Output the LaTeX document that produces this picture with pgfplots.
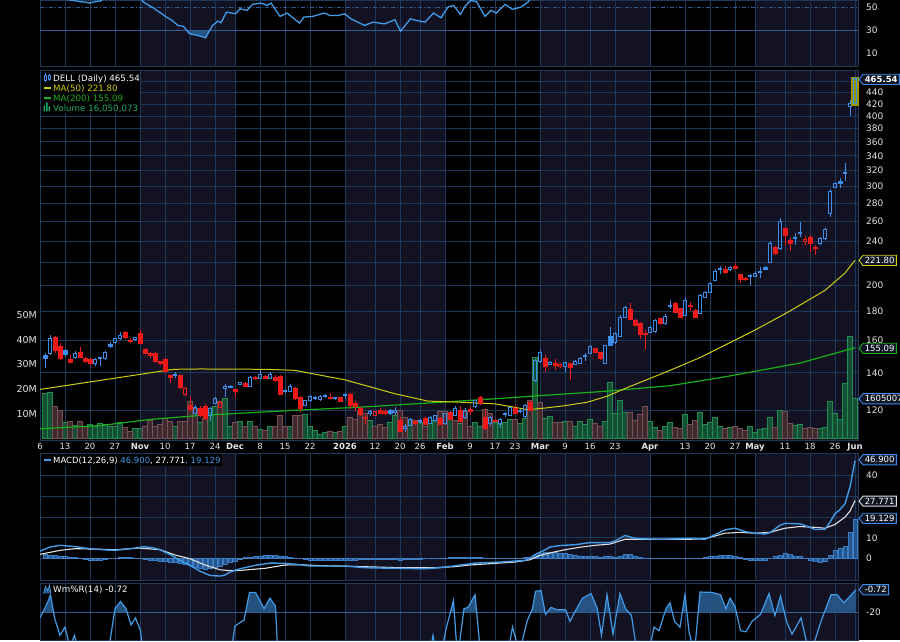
\documentclass[border=0pt]{standalone}
\usepackage{fontspec}
\setmainfont{DejaVu Sans}
\usepackage{pgfplots}
\usepackage{pgfplotstable}
\pgfplotsset{compat=1.18}

\definecolor{bgnavy}{RGB}{18,18,34}
\definecolor{gridc}{RGB}{28,56,90}
\definecolor{gridb}{RGB}{45,95,150}
\definecolor{cblue}{RGB}{60,140,235}
\definecolor{cred}{RGB}{240,25,25}
\definecolor{ma50}{RGB}{205,205,20}
\definecolor{ma200}{RGB}{25,175,25}
\definecolor{vgf}{RGB}{20,78,52}
\definecolor{vgd}{RGB}{35,140,80}
\definecolor{vrf}{RGB}{62,42,46}
\definecolor{vrd}{RGB}{118,80,84}
\definecolor{ind}{RGB}{65,155,230}
\definecolor{indfill}{RGB}{40,90,140}
\definecolor{histf}{RGB}{35,85,140}
\definecolor{histd}{RGB}{60,125,195}
\definecolor{sigc}{RGB}{225,225,225}
\definecolor{txt}{RGB}{228,228,232}
\definecolor{voltxt}{RGB}{30,170,110}
\definecolor{hl}{RGB}{150,150,0}
\definecolor{flagbg}{RGB}{16,22,36}

\newcommand\fs[1]{\fontsize{#1bp}{#1bp}\selectfont}
\pgfdeclareplotmark{nothing}{}
\def\Kc{244.64}

\newcommand\drawcandle{%
  \pgfmathtruncatemacro\ctp{\cT}%
  \pgfmathsetmacro\yo{(ln(\cO)-ln(\cC))*\Kc}%
  \pgfmathsetmacro\yh{(ln(\cH)-ln(\cC))*\Kc}%
  \pgfmathsetmacro\yl{(ln(\cL)-ln(\cC))*\Kc}%
  \pgfmathsetmacro\yb{min(\yo,0)}%
  \pgfmathsetmacro\yt{max(\yo,0)}%
  \pgfmathsetmacro\yt{max(\yt,\yb+1)}%
  \ifcase\ctp\relax
    \draw[cblue,line width=1bp] (0bp,\yl bp)--(0bp,\yb bp) (0bp,\yt bp)--(0bp,\yh bp);
    \draw[cblue,line width=1bp] (-1.5bp,\yb bp) rectangle (1.5bp,\yt bp);
  \or
    \draw[cblue,line width=1bp] (0bp,\yl bp)--(0bp,\yh bp);
    \fill[cblue] (-2bp,\yb bp) rectangle (2bp,\yt bp);
  \or
    \draw[cred,line width=1bp] (0bp,\yl bp)--(0bp,\yh bp);
    \fill[cred] (-2bp,\yb bp) rectangle (2bp,\yt bp);
  \or
    \draw[cred,line width=1bp] (0bp,\yl bp)--(0bp,\yb bp) (0bp,\yt bp)--(0bp,\yh bp);
    \draw[cred,line width=1bp] (-1.5bp,\yb bp) rectangle (1.5bp,\yt bp);
  \or
    \pgfmathsetmacro\ybx{\yb-1.5}\pgfmathsetmacro\ytx{\yt+1.5}%
    \fill[hl] (-3.5bp,\ybx bp) rectangle (3.5bp,\ytx bp);
    \draw[cblue,line width=1bp] (0bp,\yl bp)--(0bp,\yb bp) (0bp,\yt bp)--(0bp,\yh bp);
    \draw[cblue,line width=1bp] (-1.5bp,\yb bp) rectangle (1.5bp,\yt bp);
  \fi}

\newcommand\flag[5][]{%
  \node[anchor=west, inner xsep=1.6bp, inner ysep=1.7bp, font=\fs{8.5}#1] (fl) at (863bp,-#2bp) {\phantom{#5}};
  \filldraw[draw=#3, fill=#4, line width=0.9bp] (859bp,-#2bp) -- (fl.north west) -- (fl.north east) -- (fl.south east) -- (fl.south west) -- cycle;
  \node[anchor=west, inner xsep=1.6bp, inner ysep=1.7bp, font=\fs{8.5}#1, text=white] at (863bp,-#2bp) {#5};}

\pgfplotsset{
  base/.style={scale only axis, width=818bp, xmin=0, xmax=163.6, anchor=north west,
    axis line style={draw=gridc, line width=0.8bp},
    major tick length=0pt, minor tick length=0pt,
    xtick={0,5,10,15,20,25,30,35,39,44,49,54,61,67,72,76,81,86,91,95,100,105,110,115,122,129,134,139,143,149,154,159,163},
    xticklabels={}, xticklabel style={inner sep=0pt},
    xmajorgrids, grid style={draw=gridc, line width=0.8bp},
    yticklabel style={font=\fs{9}, text=txt, inner sep=0pt}},
  rlab/.style={yticklabel pos=right, yticklabel style={anchor=west, xshift=8bp}},
}

% daily candles: open high low close, type (0 hollow blue, 1 filled blue, 2 filled red, 3 hollow red, 4 last bar),
% volume in millions (vg on green bars, vr on brown bars)
\pgfplotstableread[row sep=\\]{
i o h l c t vg vr\\
1 150.5 152.0 142.6 148.8 1 18.4 nan\\ 2 151.6 163.5 150.8 161.2 0 18.8 nan\\
3 161.9 162.5 152.0 153.4 2 nan 13.0\\ 4 155.8 158.3 147.5 148.5 2 nan 11.5\\
5 153.4 154.0 150.0 151.0 1 6.5 nan\\ 6 147.9 150.3 145.5 146.1 2 nan 6.8\\
7 149.1 153.0 148.0 151.6 0 5.3 nan\\ 8 152.3 155.5 148.5 149.1 2 nan 6.8\\
9 148.5 149.5 145.5 146.7 2 nan 5.0\\ 10 147.9 148.5 144.5 145.5 2 5.7 nan\\
11 145.5 148.5 144.0 147.6 0 4.8 nan\\ 12 148.5 149.5 143.8 149.1 0 6.0 nan\\
13 148.5 153.0 147.5 152.3 0 5.5 nan\\ 14 157.6 158.5 155.0 155.8 1 4.8 nan\\
15 158.3 161.5 157.5 160.8 0 5.0 nan\\ 16 160.8 165.5 160.0 163.2 0 6.3 nan\\
17 165.2 166.0 160.5 161.9 2 nan 4.4\\ 18 160.2 161.5 158.0 159.0 2 nan 2.9\\
19 160.2 162.0 159.5 161.5 0 4.1 nan\\ 20 164.5 166.5 157.5 158.3 2 3.9 nan\\
21 154.2 155.0 151.0 151.6 2 nan 5.0\\ 22 151.6 152.5 148.5 150.3 2 nan 7.3\\
23 151.6 152.5 146.0 146.7 2 nan 5.0\\ 24 146.7 147.0 144.5 145.5 2 nan 5.5\\
25 147.9 148.5 140.0 140.8 2 nan 8.2\\ 26 138.5 139.0 134.5 137.4 2 nan 6.8\\
27 138.2 140.5 137.0 139.2 0 5.0 nan\\ 28 138.5 139.0 131.0 131.9 2 nan 6.8\\
29 128.2 132.2 127.5 131.5 3 nan 6.8\\ 30 122.5 127.5 119.5 120.5 2 nan 14.8\\
31 118.6 122.5 118.0 121.5 0 nan 12.1\\ 32 121.0 122.0 117.0 117.6 2 6.5 nan\\
33 122.0 123.0 115.5 116.2 2 nan 7.9\\ 34 117.6 121.5 114.8 121.0 0 10.4 nan\\
35 123.6 127.0 123.0 126.2 0 13.0 nan\\ 36 121.5 125.0 121.0 124.1 3 nan 14.8\\
37 131.5 133.8 126.7 132.2 0 16.3 nan\\ 38 132.8 133.0 131.5 132.2 1 5.0 nan\\
39 130.8 131.0 126.7 130.0 2 nan 6.3\\ 40 133.5 135.0 133.0 134.6 0 6.8 nan\\
41 134.0 134.6 132.0 132.4 2 nan 5.0\\ 42 132.4 138.0 132.0 137.4 0 6.8 nan\\
43 137.4 138.0 136.0 136.8 2 nan 4.8\\ 44 136.8 141.5 136.5 139.1 0 3.5 nan\\
45 137.9 138.5 136.3 136.8 2 nan 3.2\\ 46 136.8 140.5 136.5 139.1 0 5.0 nan\\
47 137.4 138.5 135.0 135.7 2 nan 4.8\\ 48 137.9 138.5 127.7 128.2 2 nan 9.4\\
49 129.5 131.0 129.0 130.3 0 nan 5.0\\ 50 129.7 133.5 129.2 132.4 0 5.0 nan\\
51 131.4 132.0 125.5 126.2 2 nan 9.3\\ 52 126.7 127.2 119.5 121.2 2 nan 9.3\\
53 122.5 125.5 122.0 125.1 0 9.7 nan\\ 54 125.1 127.8 124.5 127.3 0 5.0 nan\\
55 126.0 127.5 125.5 126.7 0 3.2 nan\\ 56 125.3 127.8 125.0 127.3 0 1.6 nan\\
57 127.3 128.5 126.2 127.7 0 2.6 nan\\ 58 126.8 128.7 125.6 126.0 2 nan 3.0\\
59 125.8 127.0 125.3 126.5 0 2.6 nan\\ 60 126.6 127.0 124.0 124.4 2 nan 3.0\\
61 127.4 129.0 126.0 128.0 0 4.9 nan\\ 62 128.2 129.0 120.6 122.5 2 nan 8.7\\
63 123.8 125.0 120.0 122.2 2 nan 7.6\\ 64 121.1 121.5 117.5 118.1 2 nan 11.4\\
65 117.0 118.0 113.5 116.1 2 nan 10.1\\ 66 118.6 120.3 117.5 119.3 0 7.1 nan\\
67 117.7 119.5 117.2 119.3 3 nan 4.9\\ 68 120.0 121.0 118.3 118.6 2 nan 5.7\\
69 119.8 120.8 117.8 118.6 2 nan 4.6\\ 70 120.3 120.8 117.8 118.9 1 6.6 nan\\
71 119.2 121.5 118.0 119.8 0 9.3 nan\\ 72 115.5 116.7 109.9 110.4 2 nan 11.4\\
73 111.5 113.5 109.8 112.5 0 nan 8.4\\ 74 112.9 116.3 112.5 115.8 0 7.6 nan\\
75 114.7 115.3 113.2 114.0 2 nan 7.3\\ 76 114.7 116.0 113.5 115.3 0 6.6 nan\\
77 116.3 116.8 113.3 113.6 2 nan 4.9\\ 78 113.9 117.2 113.5 116.7 0 5.9 nan\\
79 115.0 118.0 114.6 117.6 0 7.1 nan\\ 80 116.3 116.8 113.3 113.6 2 nan 10.8\\
81 113.6 119.0 113.3 118.5 0 nan 10.8\\ 82 119.2 120.0 115.3 115.6 2 9.3 nan\\
83 117.6 122.0 117.3 120.8 0 nan 7.3\\ 84 120.1 122.0 114.0 114.9 2 5.9 nan\\
85 116.6 121.0 116.2 120.1 0 nan 10.8\\ 86 120.4 122.0 118.0 119.5 2 nan 4.9\\
87 121.9 125.5 121.5 125.1 0 6.3 nan\\ 88 126.6 127.5 122.8 123.5 2 4.9 nan\\
89 116.8 120.4 111.0 111.8 2 nan 11.7\\ 90 114.0 117.5 112.5 116.5 0 nan 10.1\\
91 115.5 116.0 114.5 115.0 2 6.6 nan\\ 92 113.8 116.5 111.8 115.8 0 5.7 nan\\
93 118.0 119.5 117.0 118.4 0 6.6 nan\\ 94 117.6 121.8 117.3 121.5 0 7.6 nan\\
95 120.9 122.5 118.2 118.6 2 nan 7.6\\ 96 119.5 120.5 119.0 120.0 0 5.9 nan\\
97 117.0 123.0 116.6 122.5 0 8.2 nan\\ 98 124.2 125.5 119.8 120.1 2 nan 15.2\\
99 135.7 148.0 135.0 147.3 0 32.8 nan\\ 100 146.4 153.5 145.5 152.4 0 nan 14.5\\
101 148.5 150.5 140.3 143.8 2 8.3 nan\\ 102 145.1 147.0 144.5 146.1 0 8.8 nan\\
103 145.5 148.0 141.5 144.5 2 nan 6.5\\ 104 143.5 145.5 142.5 145.0 3 nan 6.5\\
105 143.8 146.5 140.5 145.8 0 7.0 nan\\ 106 145.5 146.0 136.0 143.0 2 nan 7.0\\
107 145.1 147.5 144.5 146.7 0 5.0 nan\\ 108 145.5 149.5 145.0 148.5 0 7.0 nan\\
109 149.5 152.0 147.0 149.9 0 5.6 nan\\ 110 151.6 157.0 151.0 155.8 0 7.5 nan\\
111 154.6 155.2 151.5 152.2 2 nan 5.9\\ 112 152.0 152.5 147.3 148.5 2 nan 5.0\\
113 145.5 157.0 145.0 156.4 0 7.0 nan\\ 114 162.5 168.5 156.5 157.0 1 22.5 nan\\
115 158.3 165.5 158.0 164.5 0 10.1 nan\\ 116 162.5 177.0 162.0 175.6 0 15.5 nan\\
117 175.6 184.3 175.0 182.8 0 10.5 nan\\ 118 181.4 185.9 173.4 174.1 2 nan 10.5\\
119 173.8 174.5 169.3 169.8 2 nan 7.3\\ 120 171.2 172.0 160.8 164.0 2 nan 9.9\\
121 164.5 167.0 154.0 163.8 2 nan 12.9\\ 122 165.2 169.5 164.5 168.8 0 7.0 nan\\
123 165.5 174.1 165.0 173.4 0 4.6 nan\\ 124 174.8 175.5 170.5 171.2 2 nan 3.3\\
125 171.2 177.7 170.8 176.3 0 5.0 nan\\ 126 183.5 188.2 181.4 184.3 0 6.5 nan\\
127 185.9 187.0 178.5 179.2 2 nan 4.3\\ 128 182.1 182.8 175.0 175.6 2 nan 3.9\\
129 177.0 190.3 176.3 188.2 0 9.9 nan\\ 130 184.5 186.7 180.5 183.5 2 nan 5.5\\
131 180.6 181.4 175.0 175.6 2 nan 7.2\\ 132 178.5 193.0 178.0 192.0 0 10.7 nan\\
133 190.5 195.5 190.0 194.5 0 5.5 nan\\ 134 194.5 202.5 194.0 201.7 0 6.5 nan\\
135 204.3 213.6 203.5 211.9 0 8.5 nan\\ 136 213.8 216.5 209.4 214.8 0 5.0 nan\\
137 213.8 216.5 209.4 211.1 2 nan 3.9\\ 138 213.8 216.5 212.0 215.3 0 4.6 nan\\
139 216.6 219.5 214.0 214.8 2 nan 5.0\\ 140 209.4 210.0 201.7 205.1 2 nan 3.9\\
141 206.3 207.0 203.5 205.5 2 nan 3.3\\ 142 207.2 209.5 200.5 208.2 0 5.0 nan\\
143 207.8 212.5 207.0 210.5 0 2.6 nan\\ 144 211.3 216.0 206.0 212.0 0 3.5 nan\\
145 215.5 216.5 213.0 214.2 1 3.9 nan\\ 146 220.1 240.0 219.5 237.7 0 8.5 nan\\
147 234.0 235.5 226.5 228.6 2 nan 4.3\\ 148 232.5 263.4 232.0 260.1 0 11.3 nan\\
149 252.4 254.0 235.2 245.4 2 nan 11.0\\ 150 241.1 242.5 230.0 237.3 2 nan 6.0\\
151 242.2 248.0 236.5 243.0 0 5.2 nan\\ 152 247.0 259.5 243.5 247.8 0 5.6 nan\\
153 239.2 244.5 236.5 241.2 3 nan 3.9\\ 154 243.5 245.5 229.5 237.3 2 nan 4.5\\
155 233.5 236.0 226.5 232.7 2 nan 3.9\\ 156 237.9 243.5 236.0 242.0 0 3.9 nan\\
157 242.0 253.5 241.0 251.5 0 4.5 nan\\ 158 268.5 296.5 264.5 294.3 0 14.9 nan\\
159 298.8 305.5 298.0 303.8 0 10.1 nan\\ 160 306.5 310.5 298.0 304.5 1 7.5 nan\\
161 316.0 330.0 306.0 316.8 0 22.1 nan\\ 162 415.5 427.7 400.0 420.5 0 41.2 nan\\
163 421.0 466.0 420.0 465.54 4 16.05 nan\\
}\ohlc

\pgfplotstableread[row sep=\\]{
x y\\ 0 130.8\\ 12 135.7\\ 20 139.1\\ 26.6 142.0\\ 32 142.2\\ 45.4 142.0\\ 51 141.4\\ 61 136.0\\
71 128.5\\ 77.6 124.7\\ 84.4 124.1\\ 91 123.3\\ 97.6 120.4\\ 101 121.2\\ 105 122.4\\ 109.4 124.1\\ 113.4 127.2\\
118 132.4\\ 126 141.4\\ 132 149.0\\ 142.6 166.0\\ 149.4 179.0\\ 157 196.1\\ 161 210.5\\ 163 221.8\\
}\maA

\pgfplotstableread[row sep=\\]{
x y\\ 0 111.4\\ 12 112.8\\ 22 115.7\\ 32 117.6\\ 51 120.1\\ 64.4 121.7\\ 77.6 123.7\\ 91 125.9\\ 101 127.7\\ 112 129.6\\
126 132.8\\ 136 137.2\\ 152 145.7\\ 163 155.1\\
}\maB

\pgfplotstableread[row sep=\\]{
x y\\ 1 1.9\\ 2 1.8\\ 3 1.6\\ 4 1.2\\ 5 1.0\\ 6 0.8\\ 7 0.5\\ 8 0.2\\ 9 -0.3\\ 10 -0.5\\
11 -0.6\\ 12 -0.5\\ 13 -0.3\\ 14 0.0\\ 15 0.3\\ 16 0.5\\ 17 0.6\\ 18 0.6\\ 19 0.4\\ 20 0.1\\
21 -0.3\\ 22 -0.5\\ 23 -0.7\\ 24 -1.0\\ 25 -1.2\\ 26 -1.5\\ 27 -1.8\\ 28 -2.2\\ 29 -2.7\\ 30 -3.3\\
31 -3.9\\ 32 -4.4\\ 33 -4.8\\ 34 -4.7\\ 35 -4.2\\ 36 -3.6\\ 37 -2.8\\ 38 -1.9\\ 39 -1.0\\ 40 -0.2\\
41 0.5\\ 42 0.9\\ 43 1.2\\ 44 1.4\\ 45 1.6\\ 46 1.6\\ 47 1.5\\ 48 1.3\\ 49 1.0\\ 50 0.7\\
51 0.4\\ 52 0.1\\ 53 -0.3\\ 54 -0.5\\ 55 -0.7\\ 56 -0.8\\ 57 -0.8\\ 58 -0.8\\ 59 -0.7\\ 60 -0.7\\
61 -0.6\\ 62 -0.5\\ 63 -0.5\\ 64 -0.4\\ 65 -0.3\\ 66 -0.3\\ 67 -0.3\\ 68 -0.2\\ 69 -0.2\\ 70 -0.3\\
71 -0.4\\ 72 -0.5\\ 73 -0.4\\ 74 -0.3\\ 75 -0.2\\ 76 -0.1\\ 77 0.0\\ 78 0.1\\ 79 0.2\\ 80 0.3\\
81 0.4\\ 82 0.5\\ 83 0.5\\ 84 0.6\\ 85 0.6\\ 86 0.5\\ 87 0.5\\ 88 0.6\\ 89 0.4\\ 90 0.3\\
91 0.2\\ 92 0.2\\ 93 0.3\\ 94 0.3\\ 95 0.4\\ 96 0.4\\ 97 0.5\\ 98 0.8\\ 99 1.8\\ 100 2.5\\
101 2.9\\ 102 3.2\\ 103 3.1\\ 104 2.8\\ 105 2.4\\ 106 2.0\\ 107 1.6\\ 108 1.3\\ 109 1.1\\ 110 1.1\\
111 1.0\\ 112 0.9\\ 113 1.0\\ 114 1.0\\ 115 0.9\\ 116 1.4\\ 117 1.9\\ 118 1.9\\ 119 1.4\\ 120 0.8\\
121 0.4\\ 122 0.2\\ 123 0.2\\ 124 0.1\\ 125 0.2\\ 126 0.2\\ 127 0.1\\ 128 0.0\\ 129 0.2\\ 130 0.2\\
131 0.1\\ 132 0.3\\ 133 0.5\\ 134 1.0\\ 135 1.4\\ 136 1.6\\ 137 1.6\\ 138 1.5\\ 139 1.2\\ 140 0.6\\
141 -0.2\\ 142 -0.6\\ 143 -0.8\\ 144 -0.8\\ 145 -0.7\\ 146 0.0\\ 147 1.0\\ 148 1.6\\ 149 2.4\\ 150 2.2\\
151 1.4\\ 152 1.0\\ 153 0.3\\ 154 -0.5\\ 155 -1.3\\ 156 -1.6\\ 157 -1.0\\ 158 1.6\\ 159 4.0\\ 160 4.8\\
161 5.9\\ 162 12.7\\ 163 19.1\\
}\hist

\pgfplotstableread[row sep=\\]{
x y\\ 0 3.6\\ 2 5.6\\ 4 6.4\\ 7 5.8\\ 10 4.8\\ 13 4.2\\ 15 4.0\\ 17 4.5\\ 19 5.1\\ 21 5.8\\
23 5.0\\ 24 4.3\\ 26 2.0\\ 28 -0.8\\ 30 -3.2\\ 32 -6.0\\ 34 -8.0\\ 36 -8.3\\ 37 -7.8\\ 38 -6.4\\
40 -4.8\\ 43 -3.2\\ 46 -2.1\\ 49 -2.2\\ 51 -2.6\\ 54 -3.5\\ 58 -3.5\\ 61 -3.5\\ 65 -4.3\\ 69 -4.5\\
72 -4.6\\ 77 -4.8\\ 80 -4.3\\ 82 -3.7\\ 87 -2.1\\ 92 -1.6\\ 97 -0.8\\ 98 0.2\\ 99 2.0\\ 101 4.2\\
102 5.6\\ 104 6.3\\ 107 6.7\\ 110 7.7\\ 114 7.7\\ 115 8.5\\ 117 11.1\\ 119 9.8\\ 121 9.5\\ 124 9.3\\
127 9.5\\ 130 9.8\\ 133 9.3\\ 135 11.5\\ 137 13.8\\ 139 14.6\\ 141 13.0\\ 143 12.2\\ 145 11.8\\ 146 12.5\\
148 16.0\\ 149 16.9\\ 152 16.7\\ 154 15.0\\ 155 14.0\\ 157 14.0\\ 158 17.5\\ 159 21.5\\ 160 23.5\\ 161 26.3\\
162 34.3\\ 163 46.9\\
}\macd

\pgfplotstableread[row sep=\\]{
x y\\ 0 2.1\\ 4 4.0\\ 7 4.8\\ 11 4.6\\ 15 4.3\\ 20 5.1\\ 24 4.3\\ 27 1.8\\ 30 0.0\\ 33 -3.0\\
36 -5.3\\ 38 -5.7\\ 40 -5.6\\ 45 -4.6\\ 49 -3.0\\ 52 -2.9\\ 56 -3.3\\ 63 -3.7\\ 72 -4.3\\ 79 -4.3\\
83 -3.8\\ 86 -3.0\\ 95 -1.6\\ 98 -0.5\\ 100 1.6\\ 103 3.3\\ 105 4.3\\ 108 5.5\\ 111 6.4\\ 114 7.0\\
117 9.3\\ 124 9.3\\ 130 9.3\\ 133 9.6\\ 137 12.2\\ 140 12.6\\ 143 12.2\\ 146 12.6\\ 149 14.6\\ 152 15.4\\
155 15.0\\ 157 14.6\\ 159 16.4\\ 161 19.9\\ 162 22.8\\ 163 27.8\\
}\sig

\pgfplotstableread[row sep=\\]{
x y\\ 0 -25\\ 1.5 -12\\ 2.1 -5\\ 2.9 -25\\ 4 -40\\ 5 -33\\ 6 -50\\ 6.9 -40\\ 8 -60\\ 9 -55\\
10 -70\\ 11 -52\\ 12 -62\\ 13 -50\\ 14 -45\\ 15 -17\\ 16.1 -10.8\\ 17.2 -17\\ 18.2 -31\\ 19.1 -25\\
20.1 -36\\ 20.7 -60\\ 22 -75\\ 23 -85\\ 24 -70\\ 25 -90\\ 26 -80\\ 27 -88\\ 28 -95\\ 29 -85\\
30 -97\\ 31 -80\\ 32 -90\\ 33 -75\\ 34 -85\\ 35 -65\\ 36 -70\\ 37 -55\\ 38 -60\\ 39 -32\\
40 -29\\ 40.8 -27\\ 41.9 -3\\ 43.1 -3\\ 44.8 -17\\ 46 -8\\ 47.1 -15\\ 47.6 -60\\ 49 -80\\ 50 -70\\
51 -90\\ 52 -85\\ 53 -75\\ 54 -80\\ 55 -70\\ 56 -85\\ 57 -78\\ 58 -90\\ 59 -82\\ 60 -88\\
61 -95\\ 62 -80\\ 63 -90\\ 64 -85\\ 65 -92\\ 66 -80\\ 67 -75\\ 68 -85\\ 69 -78\\ 70 -88\\
71 -90\\ 72 -98\\ 73 -80\\ 74 -85\\ 75 -70\\ 76 -78\\ 77 -65\\ 78 -55\\ 78.6 -40\\ 79.5 -60\\
80.5 -50\\ 81.3 -33\\ 82.7 -10\\ 83.5 -60\\ 84.8 -17\\ 85.6 -16\\ 87 -5\\ 88.2 -60\\ 89 -75\\ 90 -85\\
91 -70\\ 92 -65\\ 93 -60\\ 93.6 -55\\ 94.5 -33\\ 95.9 -55\\ 97.4 -28\\ 98.5 -17\\ 99.1 -2\\ 100.2 -1.5\\
101.1 -22\\ 102.2 -16\\ 103.4 -18\\ 105.1 -18\\ 106 -28\\ 107.2 -18\\ 108.5 -8\\ 110.2 -4\\ 111.4 -16\\ 112.3 -40\\
113.4 -5\\ 114.6 -39\\ 116 -4\\ 117.1 -17\\ 118.3 -23\\ 119.4 -55\\ 120.5 -70\\ 121.5 -60\\ 122.8 -33\\ 123.8 -36\\
125.2 -17\\ 126 -12\\ 126.9 -28\\ 128 -33\\ 129 -5\\ 129.8 -37\\ 130.9 -55\\ 132 -2.7\\ 134.4 -3\\ 136.1 -5\\
137.2 -17\\ 138 -8\\ 139 -15\\ 140.1 -36\\ 141.2 -37\\ 142.4 -28\\ 144.1 -22\\ 145.8 -4\\ 147 -23\\ 148.1 -6\\
149.3 -28\\ 150.4 -39\\ 152.2 -25\\ 153.8 -55\\ 155 -44\\ 156.2 -28\\ 158.2 -5\\ 159.4 -5\\ 160.8 -12\\ 162.5 -4\\
163.2 -0.72\\
}\wr

% shaded parts of Williams %R above -20 (one polygon per run, separated by nan)
\pgfplotstableread[row sep=\\]{
x y\\ 0.58 -20\\ 1.5 -12\\ 2.1 -5\\ 2.7 -20\\ nan nan\\
14.89 -20\\ 15 -17\\ 16.1 -10.8\\ 17.2 -17\\ 17.41 -20\\ nan nan\\
41.12 -20\\ 41.9 -3\\ 43.1 -3\\ 44.8 -17\\ 46 -8\\ 47.1 -15\\ 47.16 -20\\ nan nan\\
82.09 -20\\ 82.7 -10\\ 82.86 -20\\ nan nan\\
84.71 -20\\ 84.8 -17\\ 85.6 -16\\ 87 -5\\ 87.33 -20\\ nan nan\\
98.2 -20\\ 98.5 -17\\ 99.1 -2\\ 100.2 -1.5\\ 101.01 -20\\ nan nan\\
101.47 -20\\ 102.2 -16\\ 103.4 -18\\ 105.1 -18\\ 105.28 -20\\ nan nan\\
106.96 -20\\ 107.2 -18\\ 108.5 -8\\ 110.2 -4\\ 111.4 -16\\ 111.55 -20\\ nan nan\\
112.93 -20\\ 113.4 -5\\ 113.93 -20\\ nan nan\\
115.36 -20\\ 116 -4\\ 117.1 -17\\ 117.7 -20\\ nan nan\\
124.98 -20\\ 125.2 -17\\ 126 -12\\ 126.45 -20\\ nan nan\\
128.46 -20\\ 129 -5\\ 129.38 -20\\ nan nan\\
131.64 -20\\ 132 -2.7\\ 134.4 -3\\ 136.1 -5\\ 137.2 -17\\ 138 -8\\ 139 -15\\ 139.26 -20\\ nan nan\\
144.29 -20\\ 145.8 -4\\ 146.81 -20\\ nan nan\\
147.19 -20\\ 148.1 -6\\ 148.86 -20\\ nan nan\\
156.9 -20\\ 158.2 -5\\ 159.4 -5\\ 160.8 -12\\ 162.5 -4\\ 163.2 -0.72\\ 163.2 -20\\
}\wrfill

\pgfplotstableread[row sep=\\]{
x y\\ 0 60\\ 3 58\\ 5 57\\ 6 56.5\\ 8 55\\ 9 54.6\\ 10 53.8\\ 11 55\\ 12 55.5\\ 13 58\\
16 63\\ 19 61\\ 20 58\\ 20.7 54.6\\ 22.4 50.3\\ 25.3 41.6\\ 26.4 38.7\\ 27.6 34.3\\ 28.7 33.5\\ 29.9 27.1\\
31.6 25.6\\ 33.1 23.6\\ 34.5 34.3\\ 35.6 38.1\\ 36.2 36.7\\ 37.3 45.9\\ 39.1 44.5\\ 40 48.8\\ 41.4 47.4\\ 42.5 52.6\\
44.2 53.8\\ 45.4 51.7\\ 46.2 53.8\\ 48 42.2\\ 49.4 45.1\\ 51.9 36.4\\ 52.8 41.6\\ 54.6 42.2\\ 56.8 45.1\\ 58 43.0\\
59.7 43.0\\ 60.9 44.5\\ 62.2 40.1\\ 64.9 34.3\\ 66.6 37.2\\ 68.9 35.7\\ 71 39.3\\ 72.1 29.4\\ 74.1 40.1\\ 75.2 38.7\\
77 37.2\\ 78.7 45.1\\ 80.2 41.0\\ 81.6 50.3\\ 82.7 51.7\\ 84.1 43.9\\ 85 51.0\\ 86.1 56.0\\ 87.3 55.0\\ 89 42.2\\
90.2 47.4\\ 91.3 45.1\\ 93 52.6\\ 94.5 48.3\\ 96.2 50.3\\ 97.6 54.6\\ 98.5 60\\ 99.5 72\\ 101 75\\ 105 68\\
110 66\\ 117 74\\ 121 60\\ 125 66\\ 133 72\\ 140 60\\ 148 70\\ 155 60\\ 163 85\\
}\rsi

\pgfplotstableread[row sep=\\]{
x y\\ 29.36 30\\ 29.9 27.1\\ 31.6 25.6\\ 33.1 23.6\\ 33.94 30\\
}\rsifill

\begin{document}
\begin{tikzpicture}
\fill[black] (0,0) rectangle (900bp,-640bp);
\foreach \a/\b in {140/235,345/445,540/650,755/858}{
  \fill[bgnavy] (\a bp,0bp) rectangle (\b bp,-66bp);
  \fill[bgnavy] (\a bp,-70bp) rectangle (\b bp,-440bp);
  \fill[bgnavy] (\a bp,-453bp) rectangle (\b bp,-580bp);
  \fill[bgnavy] (\a bp,-583bp) rectangle (\b bp,-640bp);
}

% ---------- RSI panel ----------
\begin{axis}[base, rlab, at={(40bp,0bp)}, height=66bp, ymin=-1.3, ymax=56.09,
  ytick={10,30,50}, yticklabels={10,30,50}]
  \addplot[gridb, line width=0.9bp, dash pattern=on 4bp off 2bp on 1bp off 2bp] coordinates {(0,50) (163.6,50)};
  \addplot[gridb, line width=0.9bp] coordinates {(0,30) (163.6,30)};
  \addplot[fill=indfill, fill opacity=0.9, draw=none] table[x=x,y=y]{\rsifill} -- cycle;
  \addplot[ind, line width=1.3bp] table[x=x,y=y]{\rsi};
\end{axis}

% ---------- main panel: price grid ----------
\begin{axis}[base, rlab, at={(40bp,-70bp)}, height=370bp, ymode=log, ymin=106.2, ymax=481.9,
  ytick={120,140,160,180,200,220,240,260,280,300,320,340,360,380,400,420,440,460},
  yticklabels={120,140,160,180,200,,240,260,280,300,320,340,360,380,400,420,440,},
  ymajorgrids]
  \addplot[draw=none] coordinates {(1,150)};
\end{axis}

% ---------- volume ----------
\begin{axis}[base, at={(40bp,-70bp)}, height=370bp, ymin=-0.81, ymax=148.99,
  xmajorgrids=false, axis line style={draw=none},
  ytick={10,20,30,40,50}, yticklabels={10M,20M,30M,40M,50M},
  yticklabel style={anchor=east, xshift=-3bp, font=\fs{9.5}},
  xticklabels={6,13,20,27,\textbf{Nov},10,17,24,\textbf{Dec},8,15,22,\textbf{2026},12,20,26,\textbf{Feb},9,17,23,\textbf{Mar},9,16,23,\textbf{Apr},13,20,27,\textbf{May},11,18,26,\textbf{Jun}},
  xticklabel style={font=\fs{8.5}, text=txt, anchor=north, yshift=-2.6bp}]
  \addplot[ybar, bar width=4.4bp, bar shift=0pt, fill=vgf, draw=vgd, line width=0.8bp] table[x=i,y=vg]{\ohlc};
  \addplot[ybar, bar width=4.4bp, bar shift=0pt, fill=vrf, draw=vrd, line width=0.8bp] table[x=i,y=vr]{\ohlc};
\end{axis}

% ---------- price: MAs and candles ----------
\begin{axis}[base, hide axis, xmajorgrids=false, at={(40bp,-70bp)}, height=370bp, ymode=log, ymin=106.2, ymax=481.9]
  \addplot[ma200, line width=1.2bp] table[x=x,y=y]{\maB};
  \addplot[ma50, line width=1bp] table[x=x,y=y]{\maA};
  \addplot[scatter, only marks, mark=nothing,
    visualization depends on={\thisrow{o}\as\cO},
    visualization depends on={\thisrow{h}\as\cH},
    visualization depends on={\thisrow{l}\as\cL},
    visualization depends on={\thisrow{c}\as\cC},
    visualization depends on={\thisrow{t}\as\cT},
    scatter/@pre marker code/.code={\drawcandle},
    scatter/@post marker code/.code={}]
    table[x=i,y=c]{\ohlc};
\end{axis}

% ---------- MACD ----------
\begin{axis}[base, rlab, at={(40bp,-453bp)}, height=127bp, ymin=-10.38, ymax=50.38,
  ytick={0,10,20,30,40}, yticklabels={0,10,,,40}, ymajorgrids]
  \addplot[ybar, bar width=4bp, bar shift=0pt, fill=histf, draw=histd, line width=0.5bp] table[x=x,y=y]{\hist};
  \addplot[sigc, line width=1.1bp] table[x=x,y=y]{\sig};
  \addplot[ind, line width=1.4bp] table[x=x,y=y]{\macd};
\end{axis}

% ---------- Williams %R ----------
\begin{axis}[base, rlab, at={(40bp,-583bp)}, height=57bp, ymin=-44.4, ymax=4.74,
  ytick={-20}, yticklabels={-20}]
  \addplot[gridb, line width=0.9bp] coordinates {(0,-20) (163.6,-20)};
  \addplot[fill=indfill, fill opacity=0.9, draw=none, unbounded coords=jump] table[x=x,y=y]{\wrfill};
  \addplot[ind, line width=1.2bp] table[x=x,y=y]{\wr};
\end{axis}

% ---------- legends ----------
\fill[black] (41bp,-71bp) rectangle (140bp,-113bp);
\draw[cblue, line width=0.8bp] (45bp,-73bp) -- (45bp,-82bp) (49.5bp,-73.5bp) -- (49.5bp,-81bp);
\draw[cblue, line width=0.8bp, fill=black] (44bp,-75bp) rectangle (46bp,-80bp) (48.5bp,-74.5bp) rectangle (50.5bp,-79bp);
\node[anchor=base west, inner sep=0pt, text=white, font=\fs{8.7}] at (53bp,-81bp) {DELL (Daily) 465.54};
\draw[ma50, line width=2bp] (43.5bp,-88bp) -- (50.5bp,-88bp);
\node[anchor=base west, inner sep=0pt, text=ma50, font=\fs{8.7}] at (53bp,-91.5bp) {MA(50) 221.80};
\draw[ma200, line width=2bp] (43.5bp,-98bp) -- (50.5bp,-98bp);
\node[anchor=base west, inner sep=0pt, text=ma200, font=\fs{8.7}] at (53bp,-101.5bp) {MA(200) 155.09};
\fill[voltxt] (43.5bp,-111bp) rectangle (45bp,-105bp) (46bp,-111bp) rectangle (47.5bp,-102bp) (48.5bp,-111bp) rectangle (50bp,-106bp);
\node[anchor=base west, inner sep=0pt, text=voltxt, font=\fs{8.7}] at (53bp,-111bp) {Volume 16,050,073};

\fill[black] (41bp,-454bp) rectangle (222bp,-466bp);
\draw[ind, line width=2bp] (43.5bp,-459.5bp) -- (50.5bp,-459.5bp);
\node[anchor=base west, inner sep=0pt, font=\fs{8.5}] at (53bp,-462.7bp) {\textcolor{white}{MACD(12,26,9)} \textcolor{ind}{46.900}\textcolor{white}{, 27.771}\textcolor{ind}{, 19.129}};

\fill[indfill] (43.5bp,-593bp) -- (45.5bp,-586bp) -- (47.5bp,-590bp) -- (49.5bp,-585bp) -- (51bp,-593bp) -- cycle;
\draw[ind, line width=0.7bp] (43.5bp,-593bp) -- (45.5bp,-586bp) -- (47.5bp,-590bp) -- (49.5bp,-585bp) -- (51bp,-593bp);
\node[anchor=base west, inner sep=0pt, text=white, font=\fs{8.7}] at (53bp,-592bp) {Wm\%R(14) -0.72};

% ---------- value flags ----------
\begin{scope}[overlay]
\flag[\bfseries]{79}{cblue}{flagbg}{465.54}
\flag{260}{ma50}{flagbg}{221.80}
\flag{348}{ma200}{flagbg}{155.09}
\flag{398.4}{cblue}{flagbg}{16050073}
\flag{459.3}{cblue}{flagbg}{46.900}
\flag{500.7}{sigc}{flagbg}{27.771}
\flag{518}{cblue}{flagbg}{19.129}
\flag{589.3}{cblue}{flagbg}{-0.72}
\end{scope}
\end{tikzpicture}
\end{document}
